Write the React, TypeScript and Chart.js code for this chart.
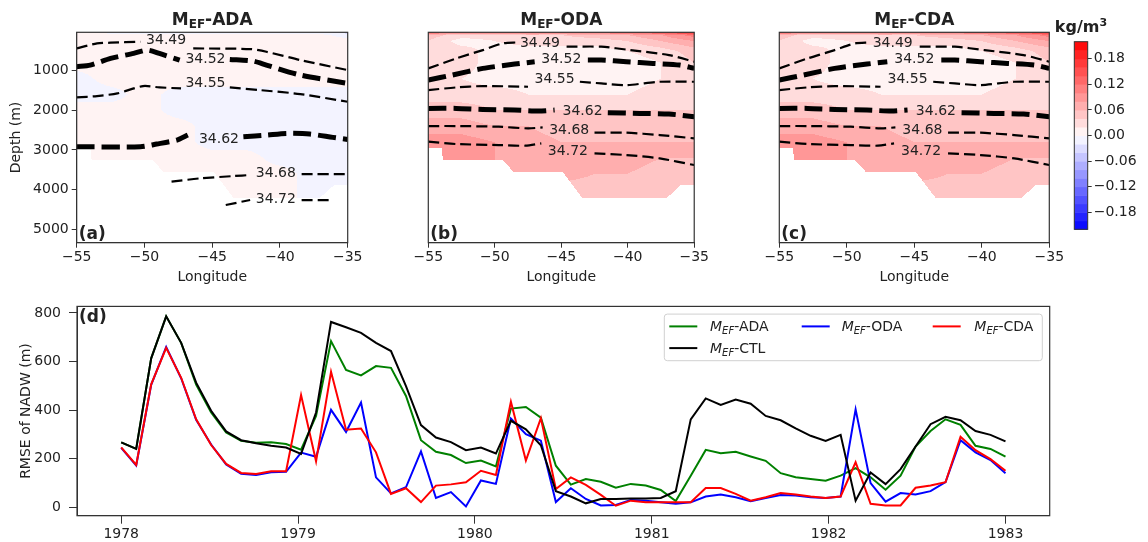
import React, { useEffect, useRef } from 'react';
import { Chart, registerables } from 'chart.js';
Chart.register(...registerables);

const FONT = "'DejaVu Sans', 'Liberation Sans', Arial, sans-serif";
const TXT = '#222222';
const SPINE = '#333333';

// ---------------- panel (d) data ----------------
const yearTicks = [1978, 1979, 1980, 1981, 1982, 1983];
const rmseTicks = [0, 200, 400, 600, 800];
const timeStart = 1978;
const timeEnd = 1983;
const rmseCTL = [267, 240, 613, 786, 677, 513, 397, 312, 276, 263, 253, 246, 219, 390, 763, 741, 718, 677, 643, 499, 338, 287, 268, 235, 246, 221, 356, 321, 255, 66, 44, 16, 34, 34, 36, 36, 38, 66, 362, 448, 421, 443, 426, 376, 358, 325, 294, 273, 298, 27, 143, 95, 157, 250, 342, 372, 358, 314, 298, 271];
const rmseADA = [267, 240, 613, 786, 677, 505, 390, 308, 274, 265, 267, 260, 237, 376, 684, 565, 543, 581, 574, 458, 276, 228, 215, 182, 192, 168, 406, 413, 369, 171, 93, 116, 105, 80, 96, 89, 71, 25, 130, 236, 222, 228, 209, 191, 140, 123, 116, 109, 130, 161, 123, 72, 130, 250, 314, 362, 339, 253, 240, 208];
const rmseODA = [244, 172, 504, 660, 531, 360, 258, 176, 138, 133, 144, 146, 225, 208, 401, 310, 431, 123, 57, 82, 230, 38, 62, 3, 110, 96, 365, 301, 274, 21, 78, 34, 7, 9, 30, 27, 20, 14, 20, 44, 52, 41, 25, 38, 50, 48, 41, 38, 44, 403, 99, 23, 58, 52, 66, 103, 276, 226, 194, 140];
const rmseCDA = [246, 174, 506, 656, 533, 362, 256, 178, 141, 137, 148, 148, 462, 189, 558, 319, 324, 226, 55, 78, 21, 89, 94, 103, 150, 133, 434, 192, 367, 75, 123, 92, 51, 6, 27, 20, 20, 20, 20, 79, 79, 55, 27, 41, 58, 52, 44, 38, 44, 185, 14, 7, 7, 80, 89, 103, 290, 235, 198, 150];

// ---------------- panels (a)-(c) data ----------------
const lonTicks = [-55, -50, -45, -40, -35];
const depthTicks = [1000, 2000, 3000, 4000, 5000];
const gridLon = [-55, -52.5, -50, -47.5, -45, -42.5, -40, -37.5, -35];
const gridDepth = [30, 100, 250, 500, 800, 1200, 1600, 2000, 2400, 2800, 3200, 3600, 4000, 4400];
const fieldADA = [
  [0.01, -0.01, -0.01, -0.01, -0.01, -0.01, -0.01, -0.01, -0.03],
  [0.01, 0.01, 0.01, 0.01, 0.01, 0.01, 0.01, 0.01, -0.01],
  [0.01, 0.01, 0.01, 0.01, 0.01, 0.01, 0.01, 0.01, 0.01],
  [0.01, 0.01, 0.01, 0.01, 0.01, 0.01, 0.01, 0.01, 0.01],
  [0.01, 0.01, 0.01, 0.01, 0.01, 0.01, 0.01, 0.01, 0.01],
  [-0.01, 0.01, 0.01, 0.01, 0.01, 0.01, 0.01, 0.01, 0.01],
  [-0.01, -0.01, 0.01, -0.01, -0.01, -0.01, -0.01, -0.01, -0.01],
  [0.01, 0.01, 0.01, -0.01, -0.01, -0.01, -0.01, -0.01, -0.01],
  [0.01, 0.01, 0.01, 0.01, -0.01, -0.01, -0.01, -0.01, -0.01],
  [0.01, 0.01, 0.01, 0.01, -0.01, -0.01, -0.01, -0.01, -0.01],
  [0.01, 0.01, 0.01, 0.01, 0.01, 0.01, -0.01, -0.01, -0.01],
  [0.01, 0.01, 0.01, 0.01, 0.01, 0.01, 0.01, -0.01, -0.01],
  [0.01, 0.01, 0.01, 0.01, 0.01, 0.01, 0.01, -0.01, -0.01],
  [0.01, 0.01, 0.01, 0.01, 0.01, 0.01, 0.01, -0.01, -0.01],
];
const fieldODA = [
  [0.15, 0.13, 0.13, 0.14, 0.13, 0.13, 0.14, 0.16, 0.19],
  [0.05, 0.03, 0.03, 0.04, 0.04, 0.05, 0.06, 0.08, 0.11],
  [0.04, 0.01, 0.02, 0.03, 0.03, 0.03, 0.04, 0.06, 0.08],
  [0.04, 0.03, 0.01, 0.01, 0.01, 0.01, 0.02, 0.03, 0.05],
  [0.03, 0.03, 0.01, 0.005, 0.01, 0.01, 0.01, 0.02, 0.04],
  [0.03, 0.02, 0.01, 0.01, 0.01, 0.01, 0.01, 0.02, 0.03],
  [0.03, 0.03, 0.03, 0.02, 0.02, 0.02, 0.02, 0.03, 0.03],
  [0.05, 0.05, 0.04, 0.04, 0.04, 0.04, 0.04, 0.04, 0.04],
  [0.07, 0.07, 0.06, 0.06, 0.05, 0.05, 0.05, 0.05, 0.05],
  [0.09, 0.09, 0.08, 0.07, 0.06, 0.06, 0.06, 0.06, 0.06],
  [0.09, 0.09, 0.08, 0.08, 0.07, 0.07, 0.07, 0.06, 0.06],
  [0.08, 0.08, 0.08, 0.07, 0.07, 0.06, 0.06, 0.05, 0.05],
  [0.07, 0.07, 0.07, 0.06, 0.05, 0.05, 0.04, 0.04, 0.04],
  [0.06, 0.06, 0.06, 0.05, 0.04, 0.04, 0.04, 0.04, 0.04],
];
const fieldCDA = [
  [0.15, 0.13, 0.13, 0.14, 0.13, 0.13, 0.14, 0.16, 0.19],
  [0.05, 0.03, 0.03, 0.04, 0.04, 0.05, 0.06, 0.08, 0.11],
  [0.04, 0.01, 0.02, 0.03, 0.03, 0.03, 0.04, 0.06, 0.08],
  [0.04, 0.03, 0.01, 0.01, 0.01, 0.01, 0.02, 0.03, 0.05],
  [0.03, 0.03, 0.01, 0.005, 0.01, 0.01, 0.01, 0.02, 0.04],
  [0.03, 0.02, 0.01, 0.01, 0.01, 0.01, 0.01, 0.02, 0.03],
  [0.03, 0.03, 0.03, 0.02, 0.02, 0.02, 0.02, 0.03, 0.03],
  [0.05, 0.05, 0.04, 0.04, 0.04, 0.04, 0.04, 0.04, 0.04],
  [0.07, 0.07, 0.06, 0.06, 0.05, 0.05, 0.05, 0.05, 0.05],
  [0.09, 0.09, 0.08, 0.07, 0.06, 0.06, 0.06, 0.06, 0.06],
  [0.09, 0.09, 0.08, 0.08, 0.07, 0.07, 0.07, 0.06, 0.06],
  [0.08, 0.08, 0.08, 0.07, 0.07, 0.06, 0.06, 0.05, 0.05],
  [0.07, 0.07, 0.07, 0.06, 0.05, 0.05, 0.04, 0.04, 0.04],
  [0.06, 0.06, 0.06, 0.05, 0.04, 0.04, 0.04, 0.04, 0.04],
];
const bottomLon = [-55, -54, -53.9, -49.4, -48.6, -44.9, -43.4, -37.1, -36, -35];
const bottomDepth = [2950, 2950, 3255, 3255, 3550, 3550, 4220, 4220, 3885, 3885];
const cbarLevels = [-0.22, -0.2, -0.18, -0.16, -0.14, -0.12, -0.1, -0.08, -0.06, -0.04, -0.02, 0, 0.02, 0.04, 0.06, 0.08, 0.1, 0.12, 0.14, 0.16, 0.18, 0.2, 0.22];
const cbarTicks = [-0.18, -0.12, -0.06, 0, 0.06, 0.12, 0.18];

// contour segments [lon, depth]; labels [lon, depth]
const adaC3449a = [[-55, 437], [-53.5, 310], [-52.5, 293], [-50.3, 268]];
const adaC3449b = [[-46.4, 437], [-42.2, 453], [-41, 521], [-38.5, 731], [-35, 983]];
const adaL3449 = [-48.4, 226];
const adaC3452a = [[-55, 899], [-54, 857], [-52.5, 689], [-50.8, 563], [-49.8, 479], [-48.9, 563], [-47.4, 731]];
const adaC3452b = [[-43.7, 714], [-42, 756], [-41, 857], [-38.5, 1109], [-35, 1320]];
const adaL3452 = [-45.5, 714];
const adaC3455a = [[-55, 1673], [-53.5, 1639], [-52, 1572], [-50.1, 1387], [-48.9, 1421], [-47.3, 1446]];
const adaC3455b = [[-43.7, 1421], [-41.5, 1488], [-38.5, 1589], [-35, 1782]];
const adaL3455 = [-45.5, 1320];
const adaC3462a = [[-55, 2918], [-50.3, 2918], [-49.1, 2850], [-47.6, 2749], [-46.8, 2623]];
const adaC3462b = [[-42.7, 2665], [-41, 2623], [-39.5, 2581], [-37.8, 2598], [-36.1, 2682], [-35, 2733]];
const adaL3462 = [-44.5, 2733];
const adaC3468a = [[-48, 3800], [-45.9, 3717], [-43.4, 3658], [-42.2, 3632]];
const adaC3468b = [[-38.4, 3607], [-35, 3607]];
const adaL3468 = [-40.3, 3590];
const adaC3472a = [[-44, 4389], [-42.2, 4263]];
const adaC3472b = [[-38.4, 4263], [-36.4, 4263]];
const adaL3472 = [-40.3, 4246];

const odaC3449a = [[-55, 941], [-52.9, 689], [-50.9, 479], [-49.4, 310], [-48.3, 285]];
const odaC3449b = [[-44.6, 394], [-42, 394], [-39.8, 479], [-36.9, 605], [-35, 773]];
const odaL3449 = [-46.6, 310];
const odaC3452a = [[-55, 1235], [-53.2, 1109], [-50.9, 941], [-48.5, 832], [-47, 773]];
const odaC3452b = [[-43, 731], [-42, 731], [-40.1, 773], [-38.1, 815], [-36.1, 857], [-35, 941]];
const odaL3452 = [-45, 714];
const odaC3455a = [[-55, 1488], [-52.9, 1421], [-50.9, 1387], [-47.5, 1404]];
const odaC3455b = [[-43.6, 1278], [-42, 1320], [-40.1, 1362], [-37.6, 1278], [-35, 1278]];
const odaL3455 = [-45.5, 1219];
const odaC3462a = [[-55, 1950], [-52.9, 1950], [-50.9, 1976], [-48.5, 1992], [-46.7, 2018], [-45.5, 1992]];
const odaC3462b = [[-41.5, 2060], [-39.1, 2077], [-36.9, 2093], [-35, 2161]];
const odaL3462 = [-43.4, 2034];
const odaC3468a = [[-55, 2396], [-52.9, 2396], [-49.7, 2413], [-47.5, 2455], [-46.4, 2430]];
const odaC3468b = [[-42.5, 2564], [-40.1, 2564], [-37.6, 2623], [-35, 2707]];
const odaL3468 = [-44.4, 2497];
const odaC3472a = [[-55, 2791], [-52.9, 2850], [-49.7, 2876], [-47.7, 2892], [-46.5, 2833]];
const odaC3472b = [[-42.5, 3086], [-40.1, 3128], [-37.6, 3212], [-35, 3380]];
const odaL3472 = [-44.5, 3044];

const contourLevels = ['34.49', '34.52', '34.55', '34.62', '34.68', '34.72'];
const contourThick = [false, true, false, true, false, false];

const adaContours = [
  [adaC3449a, adaC3449b, adaL3449], [adaC3452a, adaC3452b, adaL3452], [adaC3455a, adaC3455b, adaL3455],
  [adaC3462a, adaC3462b, adaL3462], [adaC3468a, adaC3468b, adaL3468], [adaC3472a, adaC3472b, adaL3472],
];
const odaContours = [
  [odaC3449a, odaC3449b, odaL3449], [odaC3452a, odaC3452b, odaL3452], [odaC3455a, odaC3455b, odaL3455],
  [odaC3462a, odaC3462b, odaL3462], [odaC3468a, odaC3468b, odaL3468], [odaC3472a, odaC3472b, odaL3472],
];

// ---------------- helpers ----------------
type Part = { t: string; italic?: boolean; sub?: boolean; sup?: boolean };

function drawRich(ctx: any, parts: Part[], x: number, y: number, size: number, bold: boolean, align: string) {
  const fontOf = (p: Part) => `${p.italic ? 'italic ' : ''}${bold ? 'bold ' : ''}${p.sub || p.sup ? Math.round(size * 0.7) : size}px ${FONT}`;
  let w = 0;
  for (const p of parts) { ctx.font = fontOf(p); w += ctx.measureText(p.t).width; }
  let cx = align === 'center' ? x - w / 2 : x;
  ctx.save();
  ctx.fillStyle = TXT; ctx.textAlign = 'left'; ctx.textBaseline = 'alphabetic';
  for (const p of parts) {
    ctx.font = fontOf(p);
    const dy = p.sub ? size * 0.2 : p.sup ? -size * 0.38 : 0;
    ctx.fillText(p.t, cx, y + dy);
    cx += ctx.measureText(p.t).width;
  }
  ctx.restore();
}

function bwr(t: number) {
  t = Math.max(0, Math.min(1, t));
  let r, g, b;
  if (t < 0.5) { r = g = 2 * t; b = 1; } else { r = 1; g = b = 2 * (1 - t); }
  return `rgb(${Math.round(r * 255)},${Math.round(g * 255)},${Math.round(b * 255)})`;
}
const lo = cbarLevels[0];
const hi = cbarLevels[cbarLevels.length - 1];
function bandColor(v: number) {
  const w = v + 1e-7;
  for (let i = 0; i < cbarLevels.length - 1; i++) {
    if (w >= cbarLevels[i] && w < cbarLevels[i + 1]) {
      const mid = (cbarLevels[i] + cbarLevels[i + 1]) / 2;
      return bwr((mid - lo) / (hi - lo));
    }
  }
  return w >= hi ? bwr(1) : bwr(0);
}
function locate(arr: number[], v: number): [number, number] {
  if (v <= arr[0]) return [0, 0];
  if (v >= arr[arr.length - 1]) return [arr.length - 2, 1];
  for (let i = 0; i < arr.length - 1; i++) if (v <= arr[i + 1]) return [i, (v - arr[i]) / (arr[i + 1] - arr[i])];
  return [arr.length - 2, 1];
}
function sampleField(f: number[][], lon: number, dep: number) {
  const [i, fx] = locate(gridLon, lon);
  const [j, fy] = locate(gridDepth, dep);
  const a = f[j][i] * (1 - fx) + f[j][i + 1] * fx;
  const b = f[j + 1][i] * (1 - fx) + f[j + 1][i + 1] * fx;
  return a * (1 - fy) + b * fy;
}
function interp1(xs: number[], ys: number[], v: number) {
  const [i, f] = locate(xs, v);
  return ys[i] * (1 - f) + ys[i + 1] * f;
}
const fmtMinus = (v: number, d = 0) => (v < 0 ? '\u2212' : '') + Math.abs(v).toFixed(d);

function heatPlugin(field: number[][]) {
  return {
    id: 'heat',
    beforeDatasetsDraw(chart: any) {
      const { ctx, chartArea: ca, scales } = chart;
      const xs = scales.x, ys = scales.y;
      ctx.save();
      ctx.beginPath(); ctx.rect(ca.left, ca.top, ca.right - ca.left, ca.bottom - ca.top); ctx.clip();
      const x0 = Math.floor(ca.left), x1 = Math.ceil(ca.right), y0 = Math.floor(ca.top), y1 = Math.ceil(ca.bottom);
      for (let px = x0; px < x1; px++) {
        const lon = xs.getValueForPixel(px + 0.5);
        const bot = interp1(bottomLon, bottomDepth, lon);
        let runColor: string | null = null; let runStart = y0;
        for (let py = y0; py <= y1; py++) {
          let col: string | null = null;
          if (py < y1) {
            const dep = ys.getValueForPixel(py + 0.5);
            if (dep <= bot) col = bandColor(sampleField(field, lon, dep));
          }
          if (col !== runColor) {
            if (runColor) { ctx.fillStyle = runColor; ctx.fillRect(px, runStart, 1, py - runStart); }
            runColor = col; runStart = py;
          }
        }
      }
      ctx.restore();
    },
  };
}

const framePlugin = {
  id: 'frame',
  afterDraw(chart: any) {
    const { ctx, chartArea: ca } = chart;
    ctx.save(); ctx.strokeStyle = SPINE; ctx.lineWidth = 1.2;
    ctx.strokeRect(ca.left, ca.top, ca.right - ca.left, ca.bottom - ca.top);
    ctx.restore();
  },
};

function contourLabelPlugin(contours: any[]) {
  return {
    id: 'clabels',
    afterDatasetsDraw(chart: any) {
      const { ctx, scales } = chart;
      ctx.save();
      ctx.font = `14px ${FONT}`; ctx.fillStyle = TXT; ctx.textAlign = 'center'; ctx.textBaseline = 'middle';
      contours.forEach((c, k) => {
        const L = c[2];
        ctx.fillText(contourLevels[k], scales.x.getPixelForValue(L[0]), scales.y.getPixelForValue(L[1]));
      });
      ctx.restore();
    },
  };
}

function titlePlugin(name: string, letter: string) {
  return {
    id: 'ptitle',
    afterDraw(chart: any) {
      const { ctx, chartArea: ca } = chart;
      drawRich(ctx, [{ t: 'M' }, { t: 'EF', sub: true }, { t: '-' + name }], (ca.left + ca.right) / 2, 24.5, 17, true, 'center');
      drawRich(ctx, [{ t: letter }], ca.left + 2, ca.bottom - 4, 17, true, 'left');
    },
  };
}

function contourDatasets(contours: any[]) {
  const out: any[] = [];
  contours.forEach((c, k) => {
    for (const seg of [c[0], c[1]]) {
      out.push({
        data: seg.map((p: number[]) => ({ x: p[0], y: p[1] })),
        showLine: true, pointRadius: 0, borderColor: '#000000',
        borderWidth: contourThick[k] ? 5 : 2.2,
        borderDash: contourThick[k] ? [18, 7] : [11, 5],
        tension: 0.25, fill: false,
      });
    }
  });
  return out;
}

const tickFont = { family: FONT, size: 14 };

function panelConfig(field: number[][], contours: any[], name: string, letter: string, showY: boolean, padL: number, padR: number) {
  return {
    type: 'scatter',
    data: { datasets: contourDatasets(contours) },
    options: {
      animation: false, responsive: false, devicePixelRatio: 1, events: [],
      layout: { padding: { top: 32.3, left: padL, right: padR, bottom: 0 } },
      plugins: { legend: { display: false }, tooltip: { enabled: false } },
      scales: {
        x: {
          type: 'linear', min: -55, max: -35,
          afterBuildTicks: (s: any) => { s.ticks = lonTicks.map((v) => ({ value: v })); },
          afterFit: (s: any) => { s.height = 47.3; },
          ticks: { font: tickFont, color: TXT, padding: 1, maxRotation: 0, autoSkip: false, callback: (v: number) => fmtMinus(v) },
          grid: { drawOnChartArea: false, drawTicks: true, tickLength: 5, color: SPINE },
          border: { display: true, color: SPINE },
          title: { display: true, text: 'Longitude', font: tickFont, color: TXT, padding: { top: 0, bottom: 4.6 } },
        },
        y: {
          type: 'linear', reverse: true, min: 30, max: 5340, display: showY,
          afterBuildTicks: (s: any) => { s.ticks = depthTicks.map((v) => ({ value: v })); },
          afterFit: (s: any) => { s.width = showY ? 76.7 : 0; },
          ticks: { font: tickFont, color: TXT, padding: 3, autoSkip: false, callback: (v: number) => String(v) },
          grid: { drawOnChartArea: false, drawTicks: true, tickLength: 5, color: SPINE },
          border: { display: true, color: SPINE },
          title: { display: true, text: 'Depth (m)', font: tickFont, color: TXT, padding: { top: 8.3, bottom: 0 } },
        },
      },
    },
    plugins: [heatPlugin(field), contourLabelPlugin(contours), titlePlugin(name, letter), framePlugin],
  };
}

function colorbarConfig() {
  return {
    type: 'scatter',
    data: { datasets: [] },
    options: {
      animation: false, responsive: false, devicePixelRatio: 1, events: [],
      layout: { padding: { top: 41.7, left: 34.3, right: 0, bottom: 20.7 } },
      plugins: { legend: { display: false }, tooltip: { enabled: false } },
      scales: {
        x: { display: false, min: 0, max: 1 },
        y: {
          position: 'right', min: lo, max: hi,
          afterBuildTicks: (s: any) => { s.ticks = cbarTicks.map((v) => ({ value: v })); },
          afterFit: (s: any) => { s.width = 60.3; },
          ticks: { font: tickFont, color: TXT, padding: 2, autoSkip: false, callback: (v: number) => fmtMinus(v, 2) },
          grid: { drawOnChartArea: false, drawTicks: true, tickLength: 4, color: SPINE },
          border: { display: false },
        },
      },
    },
    plugins: [
      {
        id: 'cbar',
        afterDraw(chart: any) {
          const { ctx, chartArea: ca, scales } = chart;
          ctx.save();
          for (let i = 0; i < cbarLevels.length - 1; i++) {
            const yTop = scales.y.getPixelForValue(cbarLevels[i + 1]);
            const yBot = scales.y.getPixelForValue(cbarLevels[i]);
            ctx.fillStyle = bandColor((cbarLevels[i] + cbarLevels[i + 1]) / 2);
            ctx.fillRect(ca.left, yTop, ca.right - ca.left, yBot - yTop + 0.5);
          }
          ctx.strokeStyle = SPINE; ctx.lineWidth = 1;
          ctx.strokeRect(ca.left, ca.top, ca.right - ca.left, ca.bottom - ca.top);
          ctx.restore();
          drawRich(ctx, [{ t: 'kg/m' }, { t: '3', sup: true }], (ca.left + ca.right) / 2 + 0, 32, 16, true, 'center');
        },
      },
    ],
  };
}

const legendEntries = [
  { name: 'ADA', color: '#008000', col: 0, row: 0 },
  { name: 'ODA', color: '#0000ff', col: 1, row: 0 },
  { name: 'CDA', color: '#ff0000', col: 2, row: 0 },
  { name: 'CTL', color: '#000000', col: 0, row: 1 },
];

function rmseConfig() {
  const n = rmseCTL.length;
  const time = rmseCTL.map((_, i) => timeStart + ((timeEnd - timeStart) * i) / (n - 1));
  const mk = (vals: number[], color: string) => ({
    data: vals.map((v, i) => ({ x: time[i], y: v })),
    showLine: true, pointRadius: 0, borderColor: color, borderWidth: 2, tension: 0, fill: false,
  });
  return {
    type: 'scatter',
    data: {
      datasets: [mk(rmseCTL, '#000000'), mk(rmseCDA, '#ff0000'), mk(rmseODA, '#0000ff'), mk(rmseADA, '#008000')],
    },
    options: {
      animation: false, responsive: false, devicePixelRatio: 1, events: [],
      layout: { padding: { top: 15, left: 0, right: 98.3, bottom: 0 } },
      plugins: { legend: { display: false }, tooltip: { enabled: false } },
      scales: {
        x: {
          type: 'linear', min: 1977.75, max: 1983.25,
          afterBuildTicks: (s: any) => { s.ticks = yearTicks.map((v) => ({ value: v })); },
          afterFit: (s: any) => { s.height = 26.3; },
          ticks: { font: tickFont, color: TXT, padding: 2, maxRotation: 0, autoSkip: false, callback: (v: number) => String(v) },
          grid: { drawOnChartArea: false, drawTicks: true, tickLength: 8, color: SPINE },
          border: { display: true, color: SPINE },
        },
        y: {
          type: 'linear', min: -35, max: 827,
          afterBuildTicks: (s: any) => { s.ticks = rmseTicks.map((v) => ({ value: v })); },
          afterFit: (s: any) => { s.width = 77; },
          ticks: { font: tickFont, color: TXT, padding: 8, autoSkip: false, callback: (v: number) => String(v) },
          grid: { drawOnChartArea: false, drawTicks: true, tickLength: 8, color: SPINE },
          border: { display: true, color: SPINE },
          title: { display: true, text: 'RMSE of NADW (m)', font: tickFont, color: TXT, padding: { top: 17.6, bottom: 0 } },
        },
      },
    },
    plugins: [
      framePlugin,
      {
        id: 'dlegend',
        afterDraw(chart: any) {
          const { ctx, chartArea: ca } = chart;
          const bx = ca.right - 385.4, by = ca.top + 7.7, bw = 378, bh = 46.6;
          ctx.save();
          ctx.fillStyle = 'rgba(255,255,255,0.85)'; ctx.strokeStyle = '#d0d0d0'; ctx.lineWidth = 1;
          ctx.beginPath();
          if (ctx.roundRect) ctx.roundRect(bx, by, bw, bh, 3); else ctx.rect(bx, by, bw, bh);
          ctx.fill(); ctx.stroke();
          const lineX = [5, 137.4, 268.4];
          const textX = [45.7, 177.4, 310];
          const rowY = [12.3, 34];
          for (const e of legendEntries) {
            const yy = by + rowY[e.row];
            ctx.strokeStyle = e.color; ctx.lineWidth = 2;
            ctx.beginPath(); ctx.moveTo(bx + lineX[e.col], yy); ctx.lineTo(bx + lineX[e.col] + 28, yy); ctx.stroke();
            drawRich(ctx, [{ t: 'M', italic: true }, { t: 'EF', italic: true, sub: true }, { t: '-' + e.name }], bx + textX[e.col], yy + 5, 14, false, 'left');
          }
          ctx.restore();
          drawRich(ctx, [{ t: '(d)' }], ca.left + 2, ca.top + 15.5, 17, true, 'left');
        },
      },
    ],
  };
}

export default function App() {
  const refA = useRef<HTMLCanvasElement>(null);
  const refB = useRef<HTMLCanvasElement>(null);
  const refC = useRef<HTMLCanvasElement>(null);
  const refBar = useRef<HTMLCanvasElement>(null);
  const refD = useRef<HTMLCanvasElement>(null);

  useEffect(() => {
    const charts: Chart[] = [];
    charts.push(new Chart(refA.current as any, panelConfig(fieldADA, adaContours, 'ADA', '(a)', true, 0, 22.3) as any));
    charts.push(new Chart(refB.current as any, panelConfig(fieldODA, odaContours, 'ODA', '(b)', false, 58.3, 11.7) as any));
    charts.push(new Chart(refC.current as any, panelConfig(fieldCDA, odaContours, 'CDA', '(c)', false, 59.3, 30.7) as any));
    charts.push(new Chart(refBar.current as any, colorbarConfig() as any));
    charts.push(new Chart(refD.current as any, rmseConfig() as any));
    return () => charts.forEach((c) => c.destroy());
  }, []);

  const abs = (left: number, top: number) => ({ position: 'absolute' as const, left, top });
  return (
    <div style={{ position: 'fixed', left: 0, top: 0, width: 1148, height: 542, background: '#ffffff', overflow: 'hidden' }}>
      <canvas ref={refA} width={370} height={290} style={abs(0, 0)} />
      <canvas ref={refB} width={340} height={290} style={abs(370, 0)} />
      <canvas ref={refC} width={360} height={290} style={abs(720, 0)} />
      <canvas ref={refBar} width={108} height={250} style={abs(1040, 0)} />
      <canvas ref={refD} width={1148} height={252} style={abs(0, 290)} />
    </div>
  );
}
